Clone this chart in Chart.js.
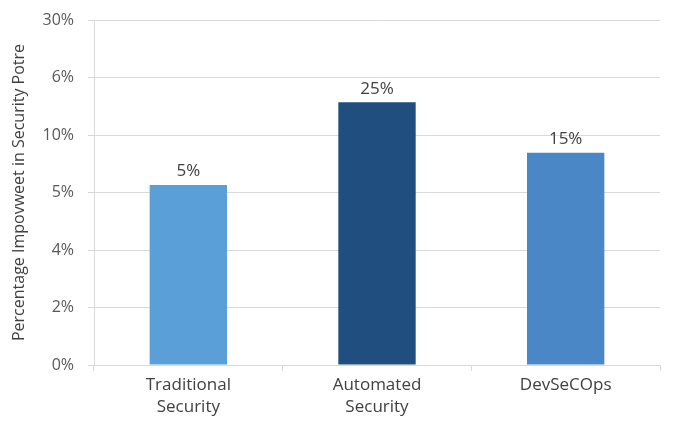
<!DOCTYPE html>
<html>
<head>
<meta charset="utf-8">
<script src="https://cdn.jsdelivr.net/npm/chart.js@4.4.0/dist/chart.umd.min.js"></script>
<style>
  html, body { margin: 0; padding: 0; background: #fff; }
  #wrap { width: 683px; height: 437px; }
</style>
</head>
<body>
<div id="wrap"><canvas id="myChart" width="683" height="437"></canvas></div>
<script>
let categories = [["Traditional", "Security"], ["Automated", "Security"], ["DevSeCOps"]];
// the y axis in the picture has odd labels, one per gridline
let tickLabels = ["0%", "2%", "4%", "5%", "10%", "6%", "30%"];
// bar heights measured in gridline steps
let barHeights = [3.13, 4.57, 3.69];
let valueLabels = ["5%", "25%", "15%"];
let barColors = ["#5b9fd8", "#1f4e7f", "#4a87c6"];

let fontFam = "'Open Sans', Lato, sans-serif";

let valueLabelPlugin = {
  id: "valueLabels",
  afterDatasetsDraw: chart => {
    let ctx = chart.ctx;
    let meta = chart.getDatasetMeta(0);
    ctx.save();
    ctx.font = "17px " + fontFam;
    ctx.fillStyle = "#404040";
    ctx.textAlign = "center";
    ctx.textBaseline = "bottom";
    meta.data.forEach((bar, i) => {
      ctx.fillText(valueLabels[i], bar.x, bar.y - 5);
    });
    ctx.restore();
  }
};

let ctx = document.getElementById("myChart").getContext("2d");
let myChart = new Chart(ctx, {
  type: "bar",
  data: {
    labels: categories,
    datasets: [
      {
        data: barHeights,
        backgroundColor: barColors,
        borderWidth: 0,
        barPercentage: 0.41,
        categoryPercentage: 1
      }
    ]
  },
  options: {
    responsive: false,
    animation: false,
    layout: { padding: { left: 0, right: 23, top: 20, bottom: 0 } },
    plugins: {
      legend: { display: false },
      tooltip: { enabled: false }
    },
    scales: {
      x: {
        afterFit: scale => { scale.height = 72; },
        grid: {
          display: true,
          drawOnChartArea: false,
          drawTicks: true,
          tickLength: 6,
          color: "#d9d9d9"
        },
        border: { color: "#d9d9d9" },
        ticks: {
          color: "#404040",
          font: { family: fontFam, size: 17, lineHeight: 1.3 },
          padding: 3
        }
      },
      y: {
        min: 0,
        max: 6,
        afterFit: scale => {
          scale.width = 94;
          scale.paddingTop = 0;
          scale.paddingBottom = 0;
        },
        afterBuildTicks: scale => {
          scale.ticks = tickLabels.map((t, i) => ({ value: i }));
        },
        grid: {
          color: "#d9d9d9",
          tickLength: 6
        },
        border: { color: "#d9d9d9" },
        ticks: {
          color: "#595959",
          font: { family: fontFam, size: 16 },
          padding: 14,
          callback: (v, i) => tickLabels[i]
        },
        title: {
          display: true,
          text: "Percentage Impovweet in Security Potre",
          color: "#404040",
          font: { family: fontFam, size: 16 },
          padding: { top: 10, bottom: 0 }
        }
      }
    }
  },
  plugins: [valueLabelPlugin]
});
</script>
</body>
</html>
